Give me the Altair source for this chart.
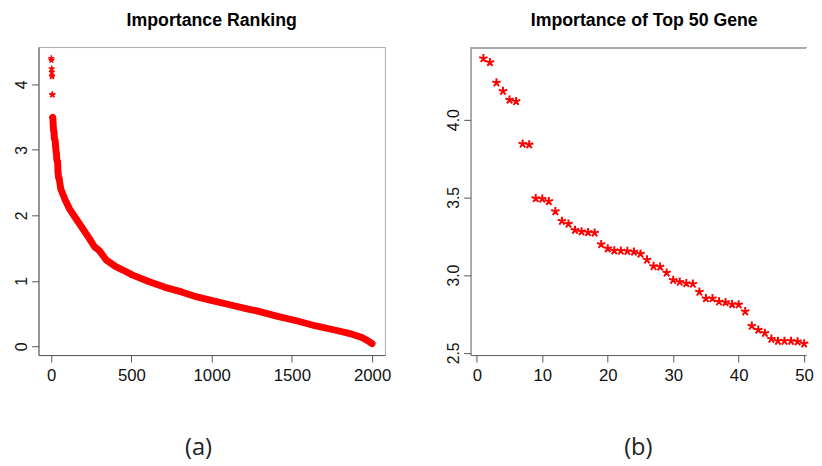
import altair as alt
import pandas as pd

# ---- data ----
# panel (b): top 50 importance values (ranks 1..50)
top50_values = [4.394, 4.369, 4.238, 4.184, 4.128, 4.118, 3.844, 3.840, 3.494, 3.490,
                3.475, 3.410, 3.348, 3.330, 3.290, 3.280, 3.275, 3.272, 3.198, 3.171,
                3.158, 3.156, 3.154, 3.150, 3.137, 3.099, 3.057, 3.053, 3.015, 2.968,
                2.956, 2.947, 2.943, 2.892, 2.850, 2.850, 2.829, 2.825, 2.812, 2.810,
                2.766, 2.673, 2.648, 2.627, 2.589, 2.576, 2.576, 2.576, 2.572, 2.559]
top50_ranks = list(range(1, 51))

# panel (a): values read along the ranked curve beyond the top 50
rest_ranks = [60, 86, 116, 157, 198, 239, 270, 300, 342, 400, 450, 505, 607, 710,
              812, 914, 1017, 1119, 1221, 1282, 1405, 1528, 1650, 1773, 1875, 1937,
              1970, 2000]
rest_values = [2.40, 2.24, 2.09, 1.94, 1.79, 1.64, 1.52, 1.46, 1.32, 1.22, 1.16, 1.09,
               0.99, 0.90, 0.83, 0.75, 0.69, 0.63, 0.57, 0.54, 0.46, 0.39, 0.31, 0.245,
               0.185, 0.135, 0.09, 0.04]

left_xticks = [0, 500, 1000, 1500, 2000]
left_yticks = [0, 1, 2, 3, 4]
right_xticks = [0, 10, 20, 30, 40, 50]
right_yticks = [2.5, 3.0, 3.5, 4.0]

left_df = pd.DataFrame({"rank": top50_ranks + rest_ranks,
                        "value": top50_values + rest_values})
right_df = pd.DataFrame({"rank": top50_ranks, "value": top50_values})


def r_domain(vals):
    lo, hi = min(vals), max(vals)
    ext = 0.04 * (hi - lo)
    return [lo - ext, hi + ext]


ASTER = ("M0,0L0,-1M0,0L0.951,-0.309M0,0L-0.951,-0.309"
         "M0,0L-0.588,0.809M0,0L0.588,0.809")
RED = "#ff0000"
BOX = "#aaa"
TITLE_FONT = "Liberation Sans"

PANEL_W, PANEL_H = 352, 313
RIGHT_W = 341  # the right frame runs off the page edge in the reference


def x_axis(ticks, caption, cap_x):
    return alt.Axis(values=ticks, title=caption, titleFont="Open Sans",
                    titleFontSize=24, titleFontWeight="normal", titleColor="#222",
                    titleX=cap_x, titleY=101, titleBaseline="alphabetic",
                    titleAlign="center", labelFontSize=17, labelPadding=6,
                    format="d")


def y_axis(ticks, fmt):
    return alt.Axis(values=ticks, title=None, labelAngle=270, labelAlign="center",
                    labelBaseline="bottom", labelFontSize=16, labelPadding=2,
                    format=fmt)


# ---- left panel ----
lx = alt.X("rank:Q", scale=alt.Scale(domain=r_domain(left_df["rank"]), nice=False, zero=False),
           axis=x_axis(left_xticks, "(a)", 162))
ly = alt.Y("value:Q", scale=alt.Scale(domain=r_domain(left_df["value"]), nice=False, zero=False),
           axis=y_axis(left_yticks, "d"))

left_line = alt.Chart(left_df).transform_filter("datum.rank >= 9").mark_line(
    color=RED, strokeWidth=7, strokeCap="round", strokeJoin="round"
).encode(x=lx, y=ly)
left_pts = alt.Chart(left_df).mark_point(
    shape=ASTER, filled=False, color=RED, strokeWidth=1.5, size=40, opacity=1
).encode(x=lx, y=ly)

left = alt.layer(left_line, left_pts).properties(
    width=PANEL_W, height=PANEL_H,
    view=alt.ViewBackground(stroke=BOX, strokeWidth=1),
    title=alt.Title("Importance Ranking", font=TITLE_FONT, fontSize=18,
                    fontWeight="bold", color="#000", frame="group",
                    baseline="alphabetic", offset=3),
)

# ---- right panel ----
r_dom = r_domain(right_df["rank"])
px_per_unit = PANEL_W / (r_dom[1] - r_dom[0])
r_dom = [r_dom[0], r_dom[0] + RIGHT_W / px_per_unit]

rx = alt.X("rank:Q", scale=alt.Scale(domain=r_dom, nice=False, zero=False),
           axis=x_axis(right_xticks, "(b)", 170))
ry = alt.Y("value:Q", scale=alt.Scale(domain=r_domain(right_df["value"]), nice=False, zero=False),
           axis=y_axis(right_yticks, ".1f"))

right_pts = alt.Chart(right_df).mark_point(
    shape=ASTER, filled=False, color=RED, strokeWidth=2, size=80, opacity=1
).encode(x=rx, y=ry)
right_top = alt.Chart(right_df).mark_rule(color=BOX, strokeWidth=1).encode(
    x=alt.value(0), x2=alt.value(RIGHT_W), y=alt.value(0.5)
)

right = alt.layer(right_top, right_pts).properties(
    width=RIGHT_W, height=PANEL_H,
    view=alt.ViewBackground(stroke=None),
    title=alt.Title("Importance of Top 50 Gene", font=TITLE_FONT, fontSize=18,
                    fontWeight="bold", color="#000", frame="group",
                    baseline="alphabetic", offset=3, dx=6),
)

chart = alt.hconcat(left, right, spacing=87, bounds="flush").properties(
    padding={"left": 5, "top": 0, "right": 0, "bottom": 0},
    background="white",
).configure_axis(
    grid=False, domainColor="#555", tickColor="#555", tickSize=7,
    labelFont="Liberation Sans", labelColor="#111",
)

chart.save("out.html", embed_options={"renderer": "svg", "actions": False})
